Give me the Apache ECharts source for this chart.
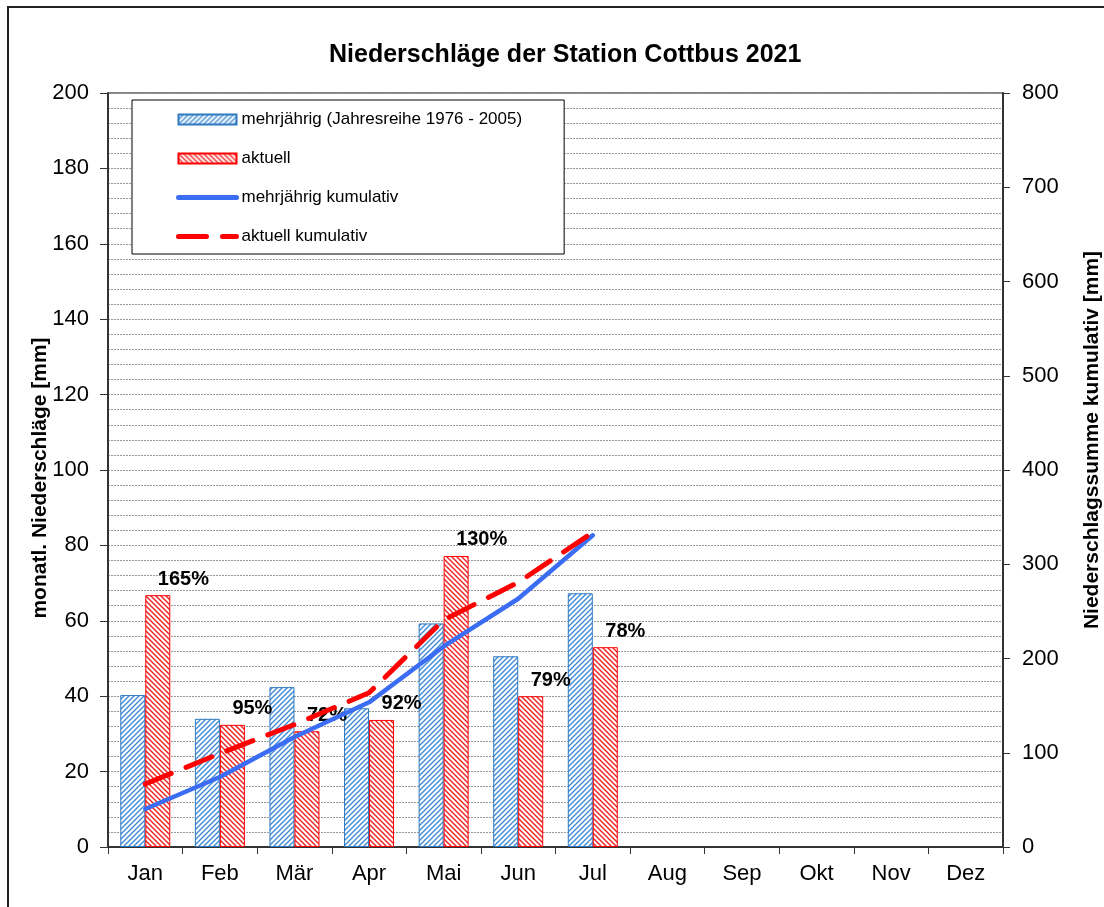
<!DOCTYPE html>
<html>
<head>
<meta charset="utf-8">
<script src="https://cdn.jsdelivr.net/npm/echarts@6/dist/echarts.min.js"></script>
<style>
  html, body { margin: 0; padding: 0; background: #fff; }
  #chart { width: 1104px; height: 907px; }
</style>
</head>
<body>
<div id="chart"></div>
<script>
// Monate
const months = ['Jan', 'Feb', 'Mär', 'Apr', 'Mai', 'Jun', 'Jul', 'Aug', 'Sep', 'Okt', 'Nov', 'Dez'];
// monatliche Niederschläge [mm]
const mehrjaehrig = [40.3, 34.0, 42.4, 36.8, 59.3, 50.6, 67.3];
const aktuell = [66.8, 32.4, 30.7, 33.7, 77.2, 40.0, 53.0];
// kumulativ [mm]
const mehrjaehrigKum = [40.3, 74.3, 116.7, 153.5, 212.8, 263.4, 330.7];
const aktuellKum = [66.8, 99.2, 129.9, 163.6, 240.8, 280.8, 333.8];
// Prozent aktuell / mehrjährig
const prozent = ['165%', '95%', '72%', '92%', '130%', '79%', '78%'];

const FONT = '"Liberation Sans", Arial, sans-serif';
const BLUE_LINE = '#3b6cf4';
const RED = '#ff0000';

// Schraffur als Canvas-Muster
function hatch(color, forward) {
    const s = 5;
    const c = document.createElement('canvas');
    c.width = s; c.height = s;
    const ctx = c.getContext('2d');
    ctx.fillStyle = '#fff';
    ctx.fillRect(0, 0, s, s);
    ctx.strokeStyle = color;
    ctx.lineWidth = 1.4;
    ctx.beginPath();
    if (forward) {
        ctx.moveTo(-1, s + 1); ctx.lineTo(s + 1, -1);
        ctx.moveTo(-1, 1); ctx.lineTo(1, -1);
        ctx.moveTo(s - 1, s + 1); ctx.lineTo(s + 1, s - 1);
    } else {
        ctx.moveTo(-1, -1); ctx.lineTo(s + 1, s + 1);
        ctx.moveTo(s - 1, -1); ctx.lineTo(s + 1, 1);
        ctx.moveTo(-1, s - 1); ctx.lineTo(1, s + 1);
    }
    ctx.stroke();
    return { image: c, repeat: 'repeat' };
}

// gedrehter Achsentitel
function axisTitle(text, x, y) {
    return {
        type: 'text',
        x: x,
        y: y,
        rotation: Math.PI / 2,
        style: {
            text: text,
            font: 'bold 21px ' + FONT,
            fill: '#000',
            align: 'center',
            verticalAlign: 'middle'
        },
        silent: true
    };
}

const chart = echarts.init(document.getElementById('chart'), null, { renderer: 'canvas' });

const option = {
    animation: false,
    textStyle: { fontFamily: FONT },
    title: {
        text: 'Niederschläge der Station Cottbus 2021',
        left: 324,
        top: 38,
        textStyle: { fontFamily: FONT, fontSize: 25, fontWeight: 'bold', color: '#000' }
    },
    legend: {
        orient: 'vertical',
        left: 132,
        top: 100,
        padding: [11, 42, 9, 44],
        itemWidth: 58,
        itemHeight: 10,
        itemGap: 22,
        backgroundColor: '#fff',
        borderColor: '#000',
        borderWidth: 1,
        textStyle: { fontFamily: FONT, fontSize: 17, color: '#000' },
        data: [
            { name: 'mehrjährig (Jahresreihe 1976 - 2005)', icon: 'rect' },
            { name: 'aktuell', icon: 'rect' },
            { name: 'mehrjährig kumulativ', itemStyle: { opacity: 0 }, lineStyle: { width: 5, color: BLUE_LINE, cap: 'round' } },
            { name: 'aktuell kumulativ', itemStyle: { opacity: 0 }, lineStyle: { width: 5, color: RED, type: [28, 16], cap: 'round' } }
        ]
    },
    grid: {
        left: 108,
        right: 101,
        top: 93,
        bottom: 60,
        show: true,
        borderColor: '#000',
        borderWidth: 1,
        backgroundColor: 'transparent'
    },
    xAxis: {
        type: 'category',
        data: months,
        axisLine: { lineStyle: { color: '#333', width: 2 } },
        axisTick: { show: true, length: 7, lineStyle: { color: '#333' } },
        axisLabel: { color: '#000', fontSize: 22, margin: 16, fontFamily: FONT }
    },
    yAxis: [
        {
            type: 'value',
            min: 0,
            max: 200,
            interval: 20,
            axisLine: { show: true, lineStyle: { color: '#333', width: 2 } },
            axisTick: { show: true, length: 8, lineStyle: { color: '#333' } },
            axisLabel: { color: '#000', fontSize: 22, margin: 19, fontFamily: FONT },
            splitLine: { show: true, lineStyle: { color: '#999', type: [2, 1], width: 1 } },
            minorTick: { show: false, splitNumber: 5 },
            minorSplitLine: { show: true, lineStyle: { color: '#999', type: [2, 1], width: 1 } }
        },
        {
            type: 'value',
            min: 0,
            max: 800,
            interval: 100,
            position: 'right',
            axisLine: { show: true, lineStyle: { color: '#333', width: 2 } },
            axisTick: { show: true, length: 7, lineStyle: { color: '#333' } },
            axisLabel: { color: '#000', fontSize: 22, margin: 19, fontFamily: FONT },
            splitLine: { show: false }
        }
    ],
    series: [
        {
            name: 'mehrjährig (Jahresreihe 1976 - 2005)',
            type: 'bar',
            data: mehrjaehrig,
            barWidth: 25,
            barGap: '0%',
            itemStyle: { color: hatch('#3f8ad6', true), borderColor: '#2e78c0', borderWidth: 1 },
            z: 2
        },
        {
            name: 'aktuell',
            type: 'bar',
            data: aktuell,
            barWidth: 25,
            barGap: '0%',
            itemStyle: { color: hatch('#f02020', false), borderColor: RED, borderWidth: 1 },
            label: {
                show: true,
                position: 'top',
                align: 'left',
                distance: 6,
                formatter: p => prozent[p.dataIndex],
                fontFamily: FONT,
                fontSize: 20,
                fontWeight: 'bold',
                color: '#000'
            },
            z: 2
        },
        {
            name: 'mehrjährig kumulativ',
            type: 'line',
            yAxisIndex: 1,
            data: mehrjaehrigKum,
            symbol: 'none',
            lineStyle: { color: BLUE_LINE, width: 4.5, cap: 'round' },
            itemStyle: { color: BLUE_LINE },
            z: 5
        },
        {
            name: 'aktuell kumulativ',
            type: 'line',
            yAxisIndex: 1,
            data: aktuellKum,
            symbol: 'none',
            lineStyle: { color: RED, width: 5, type: [28, 16], cap: 'round' },
            itemStyle: { color: RED },
            z: 5
        }
    ],
    graphic: [
        {
            type: 'rect',
            shape: { x: 8, y: 7, width: 1200, height: 1000 },
            style: { fill: 'transparent', stroke: '#222', lineWidth: 2 },
            silent: true
        },
        axisTitle('monatl. Niederschläge [mm]', 40, 478),
        axisTitle('Niederschlagssumme kumulativ [mm]', 1092, 440)
    ]
};

chart.setOption(option);
</script>
</body>
</html>
